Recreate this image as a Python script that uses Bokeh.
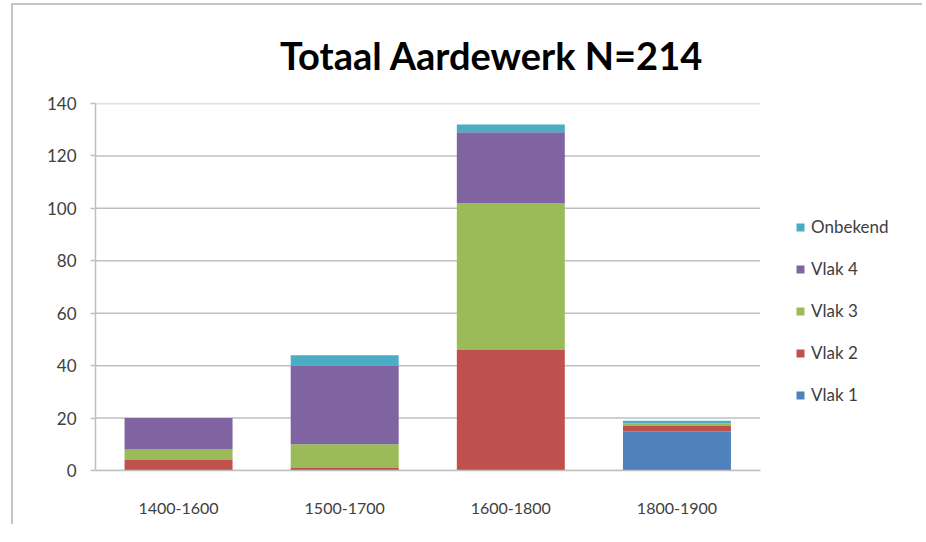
from bokeh.plotting import figure
from bokeh.models import Legend, LegendItem, Title
from bokeh.embed import file_html
from bokeh.resources import INLINE

categories = ["1400-1600", "1500-1700", "1600-1800", "1800-1900"]
series = ["Vlak 1", "Vlak 2", "Vlak 3", "Vlak 4", "Onbekend"]
vlak1 = [0, 0, 0, 15]
vlak2 = [4, 1, 46, 2]
vlak3 = [4, 9, 56, 1]
vlak4 = [12, 30, 27, 0]
onbekend = [0, 4, 3, 1]
colors = ["#4F81BD", "#C0504D", "#9BBB59", "#8064A2", "#4BACC6"]
y_ticks = [0, 20, 40, 60, 80, 100, 120, 140]
title_text = "Totaal Aardewerk N=214"

xpos = [i + 0.5 for i in range(len(categories))]
n = len(categories)
data = {"x": xpos, "Vlak 1": vlak1, "Vlak 2": vlak2, "Vlak 3": vlak3,
        "Vlak 4": vlak4, "Onbekend": onbekend}

p = figure(x_range=(0, 4.96), y_range=(0, 140),
           width=911, height=521, output_backend="svg", toolbar_location=None,
           min_border_left=82, min_border_top=98, min_border_bottom=56, min_border_right=5)
p.styles = {"border-top": "2px solid #c4c4c4", "border-left": "2px solid #c4c4c4",
            "margin-left": "11px", "margin-top": "3px"}
p.outline_line_color = None
p.background_fill_color = "white"

# horizontal gridlines limited to the category area
p.xgrid.grid_line_color = None
p.ygrid.grid_line_color = None
p.segment(x0=[0] * len(y_ticks), x1=[n] * len(y_ticks), y0=y_ticks, y1=y_ticks,
          line_color="#bfbfbf", line_width=1.5)

rs = p.vbar_stack(series, x="x", width=0.65, color=colors, source=data, line_color=None)

p.yaxis.ticker = y_ticks
p.yaxis.axis_line_color = "#bfbfbf"
p.yaxis.axis_line_width = 1.5
p.yaxis.major_tick_line_color = "#bfbfbf"
p.yaxis.major_tick_line_width = 1.5
p.yaxis.major_tick_out = 5
p.yaxis.major_tick_in = 0
p.yaxis.minor_tick_line_color = None
p.yaxis.major_label_standoff = 14
p.yaxis.major_label_text_font = "Lato"
p.yaxis.major_label_text_font_size = "17px"
p.yaxis.major_label_text_color = "#404040"

p.xaxis.ticker = xpos
p.xaxis.major_label_overrides = {x: c for x, c in zip(xpos, categories)}
p.xaxis.bounds = (0, n)
p.xaxis.axis_line_color = "#bfbfbf"
p.xaxis.axis_line_width = 1.5
p.xaxis.major_tick_line_color = None
p.xaxis.minor_tick_line_color = None
p.xaxis.major_label_standoff = 26
p.xaxis.major_label_text_font = "Lato"
p.xaxis.major_label_text_font_size = "16px"
p.xaxis.major_label_text_color = "#404040"

items = [LegendItem(label=s, renderers=[r]) for s, r in zip(series, rs)][::-1]
legend = Legend(items=items, location=(700, 65), border_line_color=None,
                background_fill_alpha=0, padding=0, margin=0,
                label_text_font="Lato", label_text_font_size="17px",
                label_text_color="#404040", glyph_width=10, glyph_height=10,
                label_height=20, spacing=21, label_standoff=6)
p.add_layout(legend, "center")

title = Title(text=title_text, align="right", offset=216, vertical_align="top",
              standoff=48, text_font="Lato", text_font_style="bold",
              text_font_size="38px", text_color="#000000")
p.add_layout(title, "above")

open("out.html", "w").write(file_html(p, INLINE))
